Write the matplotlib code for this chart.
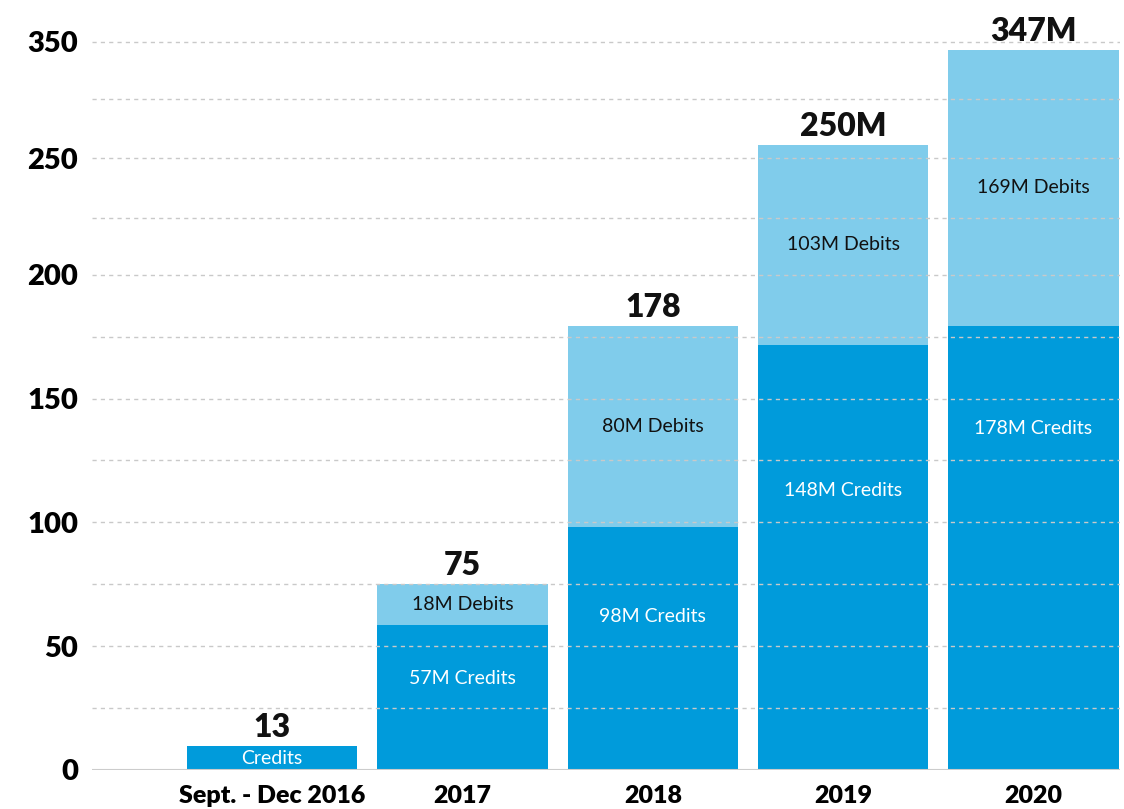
import numpy as np
import matplotlib
matplotlib.use("Agg")
import matplotlib.pyplot as plt

periods = ["Sept. - Dec 2016", "2017", "2018", "2019", "2020"]
credits = [9.7, 58.5, 98, 171.8, 179.4]
debits = [0, 16.5, 81.4, 80.6, 111.3]

# text printed on the chart
total_labels = ["13", "75", "178", "250M", "347M"]
credit_labels = ["Credits", "57M Credits", "98M Credits", "148M Credits", "178M Credits"]
debit_labels = ["", "18M Debits", "80M Debits", "103M Debits", "169M Debits"]

# where the credit labels sit inside the dark segment
credit_label_y = [4.8, 37, 62, 113, 138]

# gridlines and y tick labels as drawn
grid_vals = [25, 50, 75, 100, 125, 150, 175, 200, 223, 247, 271, 294]
ytick_vals = [0, 50, 100, 150, 200, 247, 294]
ytick_text = ["0", "50", "100", "150", "200", "250", "350"]

dark = "#009bdb"
light = "#80cceb"

plt.rcParams["font.family"] = ["Lato", "DejaVu Sans"]

fig = plt.figure(figsize=(11.24, 8.09), dpi=100)
ax = fig.add_axes([92 / 1124, 1 - 770 / 809, (1120 - 92) / 1124, 769 / 809])

x = np.arange(len(periods))
w = 0.895
ax.bar(x, credits, width=w, color=dark, zorder=2)
ax.bar(x, debits, width=w, bottom=credits, color=light, zorder=2)

for g in grid_vals:
    ax.axhline(g, color="#c9c9c9", lw=1, ls=(0, (3, 3)), zorder=3)
ax.axhline(0, color="#cccccc", lw=1.5, zorder=4)

for i in range(len(periods)):
    top = credits[i] + debits[i]
    ax.annotate(total_labels[i], (x[i], top), xytext=(0, 3), textcoords="offset points",
                ha="center", va="bottom", fontsize=23, fontweight="heavy", color="#111111")
    ax.text(x[i], credit_label_y[i], credit_labels[i], ha="center", va="center",
            fontsize=14, color="white", zorder=5)
    if debits[i] > 0:
        ax.text(x[i], credits[i] + debits[i] / 2, debit_labels[i], ha="center", va="center",
                fontsize=14, color="#111111", zorder=5)

ax.set_xlim(-0.947, 4.455)
ax.set_ylim(0, 310.5)
ax.set_xticks(x)
ax.set_xticklabels(periods, fontsize=18, fontweight="heavy")
ax.set_yticks(ytick_vals)
ax.set_yticklabels(ytick_text, fontsize=21, fontweight="heavy")
ax.tick_params(axis="both", length=0)
ax.tick_params(axis="y", pad=10)
ax.tick_params(axis="x", pad=11)
for s in ax.spines.values():
    s.set_visible(False)

fig.savefig("out.png", dpi=100, facecolor="white")
